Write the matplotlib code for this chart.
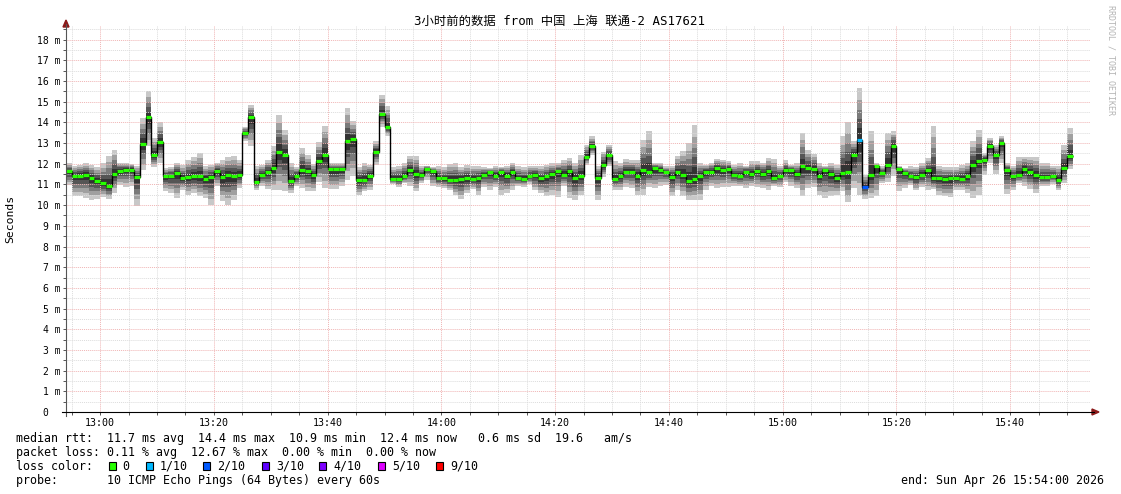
import matplotlib.pyplot as plt
from matplotlib.lines import Line2D
from matplotlib.patches import Rectangle, Polygon

plt.rcParams['font.family'] = ['DejaVu Sans Mono', 'Noto Sans CJK SC']

W, H = 1121, 494

# inicio del grafico 12:54, un paso por minuto, 180 minutos
start_h, start_m = 12, 54
span_min = 180

title = '3小时前的数据 from 中国 上海 联通-2 AS17621'

median = [11.63, 11.42, 11.42, 11.47, 11.30, 11.19, 11.06, 10.93, 11.51, 11.66,
          11.71, 11.71, 11.35, 12.97, 14.24, 12.43, 13.03, 11.39, 11.43, 11.55,
          11.29, 11.34, 11.39, 11.39, 11.27, 11.37, 11.63, 11.34, 11.45, 11.39,
          11.47, 13.48, 14.24, 11.13, 11.47, 11.58, 11.80, 12.59, 12.43, 11.19,
          11.42, 11.71, 11.63, 11.45, 12.14, 12.43, 11.74, 11.74, 11.74, 13.08,
          13.19, 11.22, 11.22, 11.42, 12.59, 14.40, 13.80, 11.27, 11.27, 11.43,
          11.71, 11.51, 11.45, 11.76, 11.64, 11.29, 11.29, 11.22, 11.22, 11.26,
          11.29, 11.26, 11.30, 11.47, 11.58, 11.43, 11.58, 11.43, 11.58, 11.29,
          11.26, 11.39, 11.45, 11.29, 11.39, 11.51, 11.63, 11.48, 11.63, 11.32,
          11.40, 12.35, 12.84, 11.29, 11.95, 12.43, 11.27, 11.39, 11.61, 11.61,
          11.42, 11.68, 11.61, 11.79, 11.71, 11.60, 11.37, 11.58, 11.47, 11.18,
          11.26, 11.42, 11.61, 11.61, 11.79, 11.68, 11.76, 11.47, 11.43, 11.61,
          11.50, 11.66, 11.50, 11.63, 11.30, 11.42, 11.68, 11.68, 11.51, 11.89,
          11.79, 11.74, 11.42, 11.68, 11.51, 11.30, 11.55, 11.61, 12.43, 13.16,
          10.90, 11.47, 11.87, 11.55, 11.95, 12.87, 11.76, 11.55, 11.39, 11.35,
          11.48, 11.68, 11.29, 11.29, 11.24, 11.29, 11.29, 11.27, 11.39, 11.93,
          12.14, 12.19, 12.87, 12.42, 13.00, 11.68, 11.42, 11.45, 11.74, 11.61,
          11.47, 11.35, 11.35, 11.42, 11.22, 11.80, 12.38]

ping_max = [12.03, 11.90, 11.95, 12.03, 11.95, 11.84, 12.03, 12.39, 12.68, 12.06,
            12.06, 12.00, 11.90, 14.21, 15.50, 13.24, 14.00, 11.79, 11.84, 12.06,
            11.95, 12.19, 12.32, 12.51, 11.90, 11.95, 12.06, 12.19, 12.32, 12.39,
            12.19, 13.80, 14.85, 11.90, 11.95, 12.19, 12.84, 14.37, 13.64, 12.03,
            11.84, 12.76, 12.43, 12.00, 13.03, 13.84, 12.03, 12.03, 12.03, 14.69,
            14.05, 11.84, 12.06, 11.95, 13.08, 15.34, 14.80, 11.84, 11.90, 12.03,
            12.39, 12.39, 11.87, 11.90, 11.84, 11.90, 11.84, 12.00, 12.03, 11.84,
            11.95, 11.90, 11.90, 11.84, 11.79, 11.90, 11.84, 11.90, 12.03, 11.90,
            11.84, 11.90, 11.90, 11.87, 11.95, 12.03, 12.03, 12.19, 12.27, 12.06,
            12.43, 12.92, 13.32, 11.90, 12.59, 12.92, 12.11, 12.06, 12.22, 12.16,
            12.19, 13.16, 13.56, 12.03, 12.06, 11.87, 11.90, 12.39, 12.64, 13.00,
            13.89, 12.03, 11.95, 12.06, 12.22, 12.19, 12.11, 11.95, 12.03, 11.90,
            12.11, 12.11, 12.06, 12.27, 12.22, 11.90, 12.16, 11.95, 12.03, 13.51,
            12.68, 12.48, 12.03, 11.90, 12.03, 11.95, 13.32, 14.00, 13.08, 15.65,
            11.47, 13.56, 12.03, 11.87, 13.51, 13.56, 11.87, 11.79, 11.87, 11.84,
            12.03, 12.27, 13.84, 11.87, 11.84, 11.84, 11.84, 11.95, 12.03, 13.08,
            13.64, 12.51, 13.24, 12.92, 13.32, 12.03, 11.90, 12.35, 12.35, 12.32,
            12.32, 12.03, 12.03, 11.90, 11.90, 12.92, 13.72]

ping_min = [10.95, 10.42, 10.42, 10.34, 10.26, 10.29, 10.39, 10.29, 10.61, 10.98,
            10.90, 10.93, 9.97, 11.68, 12.84, 11.84, 12.06, 10.66, 10.58, 10.34,
            10.74, 10.50, 10.58, 10.45, 10.34, 10.01, 10.93, 10.22, 10.01, 10.26,
            10.82, 13.10, 12.84, 10.74, 10.93, 10.77, 10.74, 10.74, 10.66, 10.58,
            10.93, 10.82, 10.66, 10.66, 11.14, 10.82, 10.77, 10.77, 10.93, 11.22,
            11.40, 10.50, 10.66, 10.74, 11.95, 13.80, 13.32, 11.03, 10.87, 11.06,
            10.93, 10.66, 11.06, 11.22, 10.93, 10.87, 10.82, 10.74, 10.50, 10.29,
            10.58, 10.77, 10.50, 10.90, 10.74, 10.90, 10.50, 10.58, 10.74, 10.93,
            10.90, 11.03, 10.74, 10.58, 10.42, 10.50, 10.39, 10.93, 10.34, 10.26,
            10.50, 11.95, 12.43, 10.26, 11.35, 11.87, 10.74, 10.74, 10.90, 10.82,
            10.50, 10.50, 10.90, 10.82, 10.93, 10.98, 10.42, 10.74, 10.45, 10.26,
            10.26, 10.26, 10.74, 10.93, 10.82, 10.90, 10.90, 10.93, 10.93, 10.82,
            10.93, 10.87, 10.82, 10.71, 10.93, 10.87, 11.10, 10.93, 10.82, 10.42,
            10.82, 10.87, 10.50, 10.34, 10.45, 10.50, 10.66, 10.13, 10.82, 10.50,
            10.30, 10.34, 10.42, 11.06, 11.14, 11.40, 10.66, 10.82, 10.98, 10.71,
            10.87, 10.74, 10.77, 10.50, 10.42, 10.39, 10.74, 10.74, 10.58, 10.34,
            10.50, 11.47, 12.03, 11.51, 12.03, 10.55, 10.74, 11.06, 10.93, 10.77,
            10.58, 10.93, 10.93, 11.03, 10.74, 11.06, 11.74]

# minuto -> pings perdidos (de 10)
loss_events = {139: 1, 140: 2}

loss_labels = ['0', '1/10', '2/10', '3/10', '4/10', '5/10', '9/10']
loss_colors = ['#26ff00', '#00b8ff', '#0059ff', '#5e00ff', '#7e00ff', '#dd00ff', '#ff0000']

stats_rtt = 'median rtt:  11.7 ms avg  14.4 ms max  10.9 ms min  12.4 ms now   0.6 ms sd  19.6   am/s'
stats_loss = 'packet loss: 0.11 % avg  12.67 % max  0.00 % min  0.00 % now'
probe_txt = 'probe:       10 ICMP Echo Pings (64 Bytes) every 60s'
end_txt = 'end: Sun Apr 26 15:54:00 2026'


def fx(px):
    return px / W


def fy(py):
    return 1 - py / H


fig = plt.figure(figsize=(W / 100, H / 100), dpi=100)
ax = fig.add_axes([fx(66), fy(412), (span_min * 5.6875) / W, (412 - 26) / H])

n = len(median)
t = list(range(n))
edges = list(range(n + 1))

# humo: capas de gris, mas oscuro cerca de la mediana
shades = ['#c8c8c8', '#a0a0a0', '#7a7a7a', '#555555', '#333333']
fracs = [1.0, 0.78, 0.58, 0.4, 0.22]
for f, c in zip(fracs, shades):
    bot = [m - f * (m - l) for m, l in zip(median, ping_min)]
    top = [m + f * (h - m) for m, h in zip(median, ping_max)]
    ax.fill_between(edges, bot + [bot[-1]], top + [top[-1]], step='post',
                    color=c, linewidth=0, zorder=1)

ax.stairs(median, edges, baseline=None, color='black', linewidth=1.0, zorder=3)
seg_colors = [loss_colors[loss_events.get(i, 0)] for i in t]
ax.hlines(median, t, [i + 1 for i in t], colors=seg_colors, linewidth=2.3, zorder=4)

ax.set_xlim(0, span_min)
ax.set_ylim(0, 18.66)

major_x = list(range(6, span_min, 20))
minor_x = list(range(1, span_min, 5))
ax.set_xticks(major_x)
ax.set_xticks(minor_x, minor=True)
xlabels = []
for m in major_x:
    tot = start_h * 60 + start_m + m
    xlabels.append('%02d:%02d' % (tot // 60, tot % 60))
ax.set_xticklabels(xlabels, fontsize=7.2)

ax.set_yticks(range(0, 19))
ax.set_yticks([i + 0.5 for i in range(0, 19)], minor=True)
ax.set_yticklabels(['0  '] + ['%d m' % i for i in range(1, 19)], fontsize=7)

ax.set_axisbelow(False)
ax.grid(which='minor', color='#dcdcdc', linestyle=(0, (1, 1)), linewidth=0.7)
ax.grid(which='major', color='#f0b4b4', linestyle=(0, (1, 1)), linewidth=0.7)
ax.tick_params(which='both', length=2.5, width=0.7, color='#555555', pad=1.5)
for s in ax.spines.values():
    s.set_visible(False)

# ejes con flechas
fig.add_artist(Line2D([fx(66), fx(66)], [fy(416), fy(24)], color='#555555', linewidth=0.8))
fig.add_artist(Line2D([fx(62), fx(1094)], [fy(412), fy(412)], color='black', linewidth=0.8))
fig.add_artist(Polygon([[fx(63), fy(27)], [fx(69), fy(27)], [fx(66), fy(20)]],
                       closed=True, color='#8b1a1a', transform=fig.transFigure))
fig.add_artist(Polygon([[fx(1092), fy(409)], [fx(1092), fy(415)], [fx(1099), fy(412)]],
                       closed=True, color='#8b1a1a', transform=fig.transFigure))

fig.text(fx(560), fy(21), title, ha='center', va='center', fontsize=8.9)
fig.text(fx(10), fy(219), 'Seconds', rotation=90, ha='center', va='center', fontsize=8.2)
fig.text(fx(1111), fy(60), 'RRDTOOL / TOBI OETIKER', rotation=270, ha='center', va='center',
         fontsize=6, color='#b4b4b4')

fs = 8.4
fig.text(fx(16), fy(438), stats_rtt, ha='left', va='center', fontsize=fs)
fig.text(fx(16), fy(452), stats_loss, ha='left', va='center', fontsize=fs)
fig.text(fx(16), fy(466), 'loss color:', ha='left', va='center', fontsize=fs)
box_x = [108.7, 146, 203, 262, 319, 378, 436]
for bx, lab, col in zip(box_x, loss_labels, loss_colors):
    fig.add_artist(Rectangle((fx(bx), fy(470)), 7 / W, 8 / H, facecolor=col, edgecolor='black',
                             linewidth=0.8, transform=fig.transFigure))
    fig.text(fx(bx + 14), fy(466), lab, ha='left', va='center', fontsize=fs)
fig.text(fx(16), fy(480), probe_txt, ha='left', va='center', fontsize=fs)
fig.text(fx(1104), fy(480), end_txt, ha='right', va='center', fontsize=fs)

fig.savefig('out.png', dpi=100)
